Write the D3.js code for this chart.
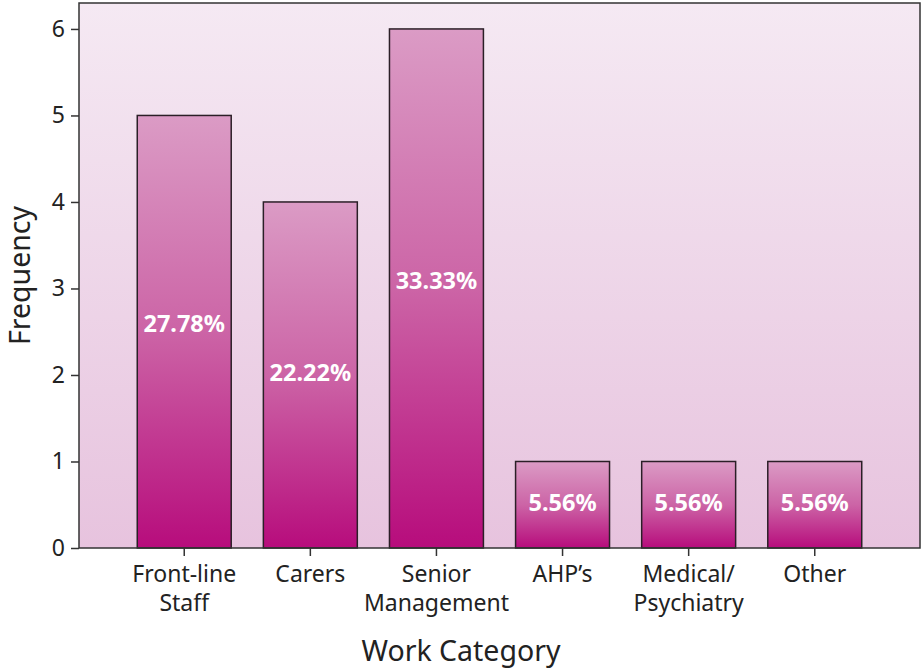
<!DOCTYPE html>
<html><head><meta charset="utf-8">
<script src="https://cdn.jsdelivr.net/npm/d3@7"></script>
<style>body{margin:0;background:#fff}svg{display:block}text{font-family:"Noto Sans","Open Sans",sans-serif}</style>
</head><body>
<svg id="c" width="921" height="668"></svg>
<script>
const categories = [["Front-line","Staff"],["Carers"],["Senior","Management"],["AHP’s"],["Medical/","Psychiatry"],["Other"]];
const values = [5,4,6,1,1,1];
const percentLabels = ["27.78%","22.22%","33.33%","5.56%","5.56%","5.56%"];
const yTicks = [0,1,2,3,4,5,6];

const svg = d3.select("#c");
const L=79, R=920, T=3, B=548;
const keys = categories.map((c,i)=>i);
const x = d3.scaleBand().domain(keys).range([L,R]).paddingInner(0.255).paddingOuter(0.462);
const y = d3.scaleLinear().domain([0,6.3]).range([B,T]);

const defs = svg.append("defs");
const bg = defs.append("linearGradient").attr("id","bg").attr("x1",0).attr("y1",0).attr("x2",0).attr("y2",1);
bg.append("stop").attr("offset",0).attr("stop-color","#f5e9f3");
bg.append("stop").attr("offset",1).attr("stop-color","#e7c3de");
const bar = defs.append("linearGradient").attr("id","bar").attr("x1",0).attr("y1",0).attr("x2",0).attr("y2",1);
bar.append("stop").attr("offset",0).attr("stop-color","#db9bc5");
bar.append("stop").attr("offset",0.5).attr("stop-color","#cc64a6");
bar.append("stop").attr("offset",1).attr("stop-color","#b70c7c");

svg.append("rect").attr("x",L).attr("y",T).attr("width",R-L).attr("height",B-T).attr("fill","url(#bg)");

const g = svg.append("g");
g.selectAll("rect.b").data(values).join("rect").attr("class","b")
  .attr("x",(d,i)=>x(i)).attr("y",d=>y(d)).attr("width",x.bandwidth()).attr("height",d=>B-y(d))
  .attr("fill","url(#bar)").attr("stroke","#2b1f27").attr("stroke-width",1.5);

g.selectAll("text.p").data(values).join("text").attr("class","p")
  .attr("x",(d,i)=>x(i)+x.bandwidth()/2).attr("y",d=>(y(d)+B)/2 - (d>=5?6:0))
  .attr("text-anchor","middle").attr("dominant-baseline","middle")
  .attr("fill","#fff").attr("font-weight","bold").attr("font-size",23.5)
  .text((d,i)=>percentLabels[i]);

svg.append("rect").attr("x",L).attr("y",T).attr("width",R-L).attr("height",B-T)
  .attr("fill","none").attr("stroke","#333").attr("stroke-width",1.5);

const ya = svg.append("g").attr("transform",`translate(${L},0)`)
  .call(d3.axisLeft(y).tickValues(yTicks).tickSize(8).tickPadding(6).tickFormat(d3.format("d")));
ya.select(".domain").remove();
ya.selectAll("line").attr("stroke","#333").attr("stroke-width",1.5);
ya.selectAll("text").attr("font-size",23).attr("fill","#222").attr("font-family","'Noto Sans',sans-serif");

const xa = svg.append("g").attr("transform",`translate(0,${B})`)
  .call(d3.axisBottom(x).tickSize(8).tickFormat(""));
xa.select(".domain").remove();
xa.selectAll("line").attr("stroke","#333").attr("stroke-width",1.5);
xa.selectAll(".tick").each(function(d){
  const t = d3.select(this).append("text").attr("text-anchor","middle").attr("fill","#222")
    .attr("font-size",23).attr("y",34);
  categories[d].forEach((line,j)=>{
    t.append("tspan").attr("x",0).attr("dy", j===0?0:29).text(line);
  });
});

svg.append("text").attr("transform",`translate(22,${(T+B)/2}) rotate(-90)`)
  .attr("text-anchor","middle").attr("font-size",28.5).attr("fill","#222").attr("dominant-baseline","middle").text("Frequency");
svg.append("text").attr("x",461).attr("y",661).attr("text-anchor","middle")
  .attr("font-size",28.5).attr("fill","#222").text("Work Category");
</script>
</body></html>
